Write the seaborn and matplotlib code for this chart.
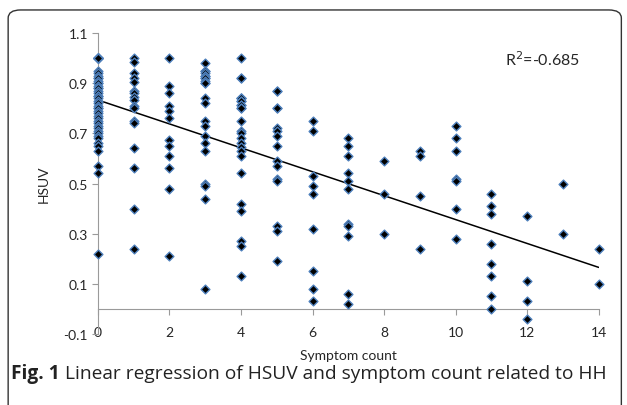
import numpy as np
import pandas as pd
import seaborn as sns
import matplotlib.pyplot as plt
from matplotlib.patches import FancyBboxPatch

# symptom count -> HSUV values (overlapping markers repeated)
hsuv_0 = [1.0, 1.0, 1.0, 1.0, 1.0, 1.0, 1.0, 1.0, 1.0, 1.0, 0.95, 0.94, 0.93, 0.92, 0.92,
          0.91, 0.90, 0.90, 0.89, 0.88, 0.88, 0.87, 0.86, 0.85, 0.85, 0.84, 0.83, 0.82,
          0.81, 0.80, 0.80, 0.79, 0.78, 0.77, 0.76, 0.75, 0.74, 0.73, 0.72, 0.71, 0.70,
          0.69, 0.68, 0.66, 0.65, 0.63, 0.57, 0.54, 0.22]
hsuv_1 = [1.0, 0.985, 0.94, 0.92, 0.905, 0.87, 0.86, 0.845, 0.835, 0.81, 0.80, 0.75, 0.74,
          0.64, 0.56, 0.40, 0.24]
hsuv_2 = [1.0, 0.89, 0.86, 0.81, 0.79, 0.76, 0.675, 0.65, 0.61, 0.56, 0.48, 0.21]
hsuv_3 = [0.98, 0.95, 0.95, 0.94, 0.93, 0.93, 0.92, 0.92, 0.91, 0.90, 0.90, 0.84, 0.82,
          0.75, 0.73, 0.69, 0.66, 0.63, 0.50, 0.49, 0.44, 0.08]
hsuv_4 = [1.0, 0.92, 0.92, 0.84, 0.84, 0.84, 0.83, 0.83, 0.815, 0.815, 0.80, 0.80, 0.75,
          0.71, 0.70, 0.68, 0.66, 0.645, 0.63, 0.61, 0.54, 0.42, 0.39, 0.27, 0.25, 0.13]
hsuv_5 = [0.87, 0.87, 0.80, 0.80, 0.72, 0.71, 0.69, 0.65, 0.59, 0.57, 0.52, 0.51, 0.33,
          0.31, 0.19]
hsuv_6 = [0.75, 0.71, 0.53, 0.49, 0.46, 0.32, 0.15, 0.08, 0.03]
hsuv_7 = [0.68, 0.65, 0.61, 0.54, 0.51, 0.48, 0.34, 0.33, 0.29, 0.06, 0.02]
hsuv_8 = [0.59, 0.46, 0.30]
hsuv_9 = [0.63, 0.61, 0.45, 0.24]
hsuv_10 = [0.73, 0.68, 0.63, 0.52, 0.51, 0.40, 0.28]
hsuv_11 = [0.46, 0.41, 0.38, 0.26, 0.18, 0.13, 0.05, 0.0]
hsuv_12 = [0.37, 0.11, 0.03, -0.04]
hsuv_13 = [0.50, 0.30]
hsuv_14 = [0.24, 0.10]

columns = [hsuv_0, hsuv_1, hsuv_2, hsuv_3, hsuv_4, hsuv_5, hsuv_6, hsuv_7,
           hsuv_8, hsuv_9, hsuv_10, hsuv_11, hsuv_12, hsuv_13, hsuv_14]
x_ticks = [0, 2, 4, 6, 8, 10, 12, 14]
y_ticks = [-0.1, 0.1, 0.3, 0.5, 0.7, 0.9, 1.1]
r_label = "R$^2$=-0.685"
caption_bold = "Fig. 1"
caption_rest = " Linear regression of HSUV and symptom count related to HH"

rows = []
for count, vals in enumerate(columns):
    for v in vals:
        rows.append((count, v))
df = pd.DataFrame(rows, columns=["Symptom count", "HSUV"])

sns.set_style("white")
plt.rcParams['font.family'] = ['Lato', 'DejaVu Sans']

fig = plt.figure(figsize=(6.27, 4.06), dpi=100)
ax = fig.add_axes([0.156, 0.175, 0.799, 0.741])

sns.regplot(data=df, x="Symptom count", y="HSUV", ax=ax, ci=None, scatter=False,
            line_kws=dict(color="black", lw=1.1))
sns.scatterplot(data=df, x="Symptom count", y="HSUV", ax=ax, marker="D", s=20,
                color="black", edgecolor="#4F81BD", linewidth=1.0, clip_on=False, zorder=3)

ax.set_xlim(0, 14)
ax.set_ylim(-0.1, 1.1)
ax.set_yticks(y_ticks)
ax.set_yticklabels([f"{t:.1f}" for t in y_ticks])
ax.set_xticks(x_ticks)
ax.set_xticklabels([str(t) for t in x_ticks])

for side in ["top", "right", "bottom"]:
    ax.spines[side].set_visible(False)
ax.spines["left"].set_color("#9a9a9a")
ax.tick_params(axis="y", direction="out", length=4, color="#9a9a9a", labelsize=10, pad=3, left=True)
ax.tick_params(axis="x", length=0, labelsize=10, pad=-6)

# horizontal axis line crossing at y = 0
sec = ax.secondary_xaxis(0.1 / 1.2)
sec.set_xticks(x_ticks)
sec.tick_params(labelbottom=False, direction="out", length=4, color="#9a9a9a")
sec.spines["bottom"].set_color("#9a9a9a")

ax.set_xlabel("Symptom count", fontsize=10, labelpad=8)
ax.set_ylabel("HSUV", fontsize=10, labelpad=10)
ax.text(0.888, 0.915, r_label, transform=ax.transAxes, ha="center", va="center", fontsize=11.5)

# rounded frame around the figure and caption
frame = FancyBboxPatch((0.013, -0.05), 0.978, 1.023, boxstyle="round,pad=0,rounding_size=0.02",
                       transform=fig.transFigure, fill=False, edgecolor="#333333", lw=1.0)
fig.patches.append(frame)
t1 = fig.text(0.018, 0.080, caption_bold, fontsize=13.8, fontweight="bold", family="Open Sans",
              va="center", ha="left", color="#222222")
fig.canvas.draw()
bb = t1.get_window_extent()
fig.text(bb.x1 / fig.bbox.width, 0.080, caption_rest,
         fontsize=13.8, family="Open Sans", va="center", ha="left", color="#222222")

plt.savefig("out.png", dpi=100)
